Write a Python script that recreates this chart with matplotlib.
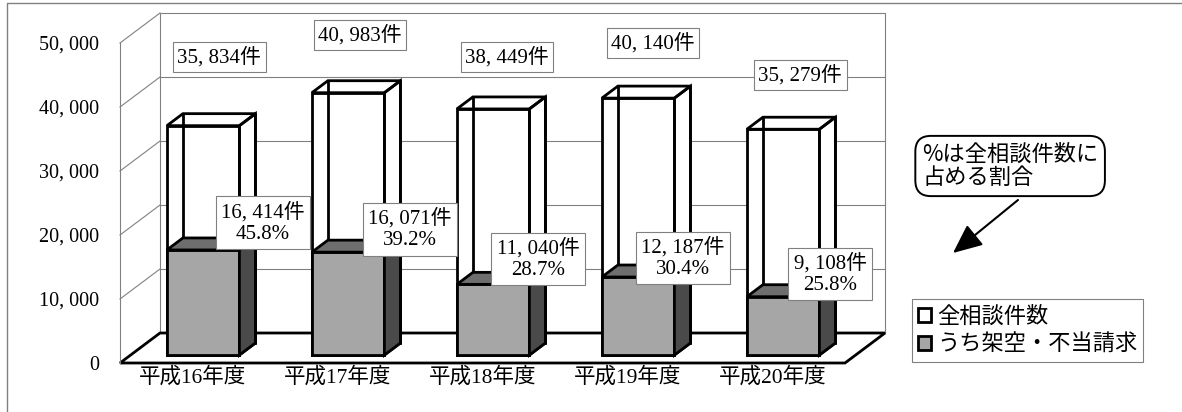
import matplotlib
matplotlib.use('Agg')
import matplotlib.pyplot as plt
from matplotlib.patches import Polygon, Patch
from matplotlib.transforms import IdentityTransform
from matplotlib.lines import Line2D

# ---- data -------------------------------------------------------------
categories = ['平成16年度', '平成17年度', '平成18年度', '平成19年度', '平成20年度']
total = [35834, 40983, 38449, 40140, 35279]          # 全相談件数
fraud = [16414, 16071, 11040, 12187, 9108]           # うち架空・不当請求
share = [45.8, 39.2, 28.7, 30.4, 25.8]               # %
yticks = [0, 10000, 20000, 30000, 40000, 50000]
series_names = ['全相談件数', 'うち架空・不当請求']
note = '%は全相談件数に\n占める割合'

# label anchor positions (category units, value units)
total_label_pos = [(0.683, 47800), (1.655, 51250), (2.669, 47800), (3.676, 50000), (4.690, 45000)]
share_label_pos = [(0.986, 21900), (2.000, 20900), (2.883, 16250), (3.883, 16400), (4.897, 13900)]

# ---- style ------------------------------------------------------------
SERIF = ['Liberation Serif', 'Noto Sans CJK JP']
SANS = ['Noto Sans CJK JP', 'DejaVu Sans']
GRID = '#808080'
FRONT, TOP, SIDE = '#a6a6a6', '#6e6e6e', '#4a4a4a'
EDGE_LW = 2.0

W, H = 1182, 412
fig = plt.figure(figsize=(W / 100, H / 100), dpi=100)
fig.patch.set_facecolor('white')
ax = fig.add_axes([120 / W, (H - 363) / H, 725 / W, 320 / H])
ax.set_xlim(0, len(categories))
ax.set_ylim(0, yticks[-1])
ax.patch.set_visible(False)
for name, sp in ax.spines.items():
    sp.set_visible(name == 'left')
ax.spines['left'].set_color(GRID)
ax.spines['left'].set_linewidth(0.8)

# oblique depth (pixels for full floor depth)
DX, DY = 40, 30


def P(x, y, d):
    px, py = ax.transData.transform((x, y))
    return (px + DX * d, py + DY * d)


def poly(pts, fc='none', ec='black', lw=EDGE_LW, z=3):
    p = Polygon(pts, closed=True, facecolor=fc, edgecolor=ec, linewidth=lw,
                transform=IdentityTransform(), zorder=z, clip_on=False,
                joinstyle='miter')
    ax.add_artist(p)


def seg(a, b, color='black', lw=EDGE_LW, z=3):
    ax.add_artist(Line2D([a[0], b[0]], [a[1], b[1]], color=color, lw=lw,
                         transform=IdentityTransform(), zorder=z, clip_on=False,
                         solid_capstyle='projecting'))


n = len(categories)
top = yticks[-1]

# back wall and gridlines
poly([P(0, 0, 1), P(0, top, 1), P(n, top, 1), P(n, 0, 1)], ec=GRID, lw=0.8, z=1)
for t in yticks[1:-1]:
    seg(P(0, t, 1), P(n, t, 1), color=GRID, lw=0.8, z=1)
for t in yticks[1:]:
    seg(P(0, t, 0), P(0, t, 1), color=GRID, lw=0.8, z=1)

# floor
poly([P(0, 0, 0), P(n, 0, 0), P(n, 0, 1), P(0, 0, 1)], fc='white', ec='black', lw=2.0, z=2)

# bars
d0, d1 = 8 / 30, 20 / 30
for i, (t, g) in enumerate(zip(total, fraud)):
    x0, x1 = i + 0.25, i + 0.75
    # total: white box with visible edges
    poly([P(x0, 0, d0), P(x0, t, d0), P(x0, t, d1), P(x1, t, d1), P(x1, 0, d1), P(x1, 0, d0)],
         fc='white', ec='none', lw=0, z=3)
    seg(P(x0, t, d1), P(x0, 0, d1), z=3.1)
    seg(P(x1, t, d1), P(x1, 0, d1), z=3.1)
    poly([P(x0, 0, d0), P(x0, t, d0), P(x1, t, d0), P(x1, 0, d0)], z=3.1)
    poly([P(x0, t, d0), P(x0, t, d1), P(x1, t, d1), P(x1, t, d0)], z=3.1)
    poly([P(x1, 0, d0), P(x1, t, d0), P(x1, t, d1), P(x1, 0, d1)], z=3.1)
    # fraud subset: solid grey box
    poly([P(x0, 0, d0), P(x0, g, d0), P(x1, g, d0), P(x1, 0, d0)], fc=FRONT, z=3.2)
    poly([P(x0, g, d0), P(x0, g, d1), P(x1, g, d1), P(x1, g, d0)], fc=TOP, z=3.2)
    poly([P(x1, 0, d0), P(x1, g, d0), P(x1, g, d1), P(x1, 0, d1)], fc=SIDE, z=3.2)


def fmt(v):
    return f'{v:,}'.replace(',', ', ')


# axes ticks and labels
ax.set_yticks(yticks)
ax.set_yticklabels([fmt(v) for v in yticks], family='Liberation Serif', fontsize=14.5)
ax.tick_params(axis='y', length=0, pad=15)
ax.set_xticks([i + 0.5 for i in range(n)])
ax.set_xticklabels(categories, family=SERIF, fontsize=15.5)
ax.set_xticks(range(1, n), minor=True)
ax.tick_params(axis='x', which='major', length=0, pad=3)
ax.tick_params(axis='x', which='minor', length=5, direction='in', color=GRID, width=0.8)

box = dict(boxstyle='square,pad=0.22', fc='white', ec=GRID, lw=0.8)
for (lx, ly), t in zip(total_label_pos, total):
    ax.text(lx, ly, f'{fmt(t)}件', ha='center', va='center', fontsize=15,
            family=SERIF, bbox=box, zorder=10, clip_on=False)
box2 = dict(boxstyle='square,pad=0.25', fc='white', ec=GRID, lw=0.8)
for (lx, ly), g, s in zip(share_label_pos, fraud, share):
    ax.text(lx, ly, f'{fmt(g)}件\n{s:.1f}%', ha='center', va='center',
            multialignment='center', fontsize=15, family=SERIF, linespacing=1.2,
            bbox=box2, zorder=10, clip_on=False)

# callout note with arrow
fig.text(922 / W, 1 - 166 / H, note, ha='left', va='center', fontsize=16,
         family=SANS, linespacing=1.05,
         bbox=dict(boxstyle='round,pad=0.3,rounding_size=0.7', fc='white', ec='black', lw=1.4))
ax.annotate('', xy=(953 / W, 1 - 253 / H), xycoords='figure fraction',
            xytext=(1018 / W, 1 - 200 / H), textcoords='figure fraction',
            arrowprops=dict(arrowstyle='-|>,head_length=0.9,head_width=0.4', color='black',
                            lw=1.5, mutation_scale=20, shrinkA=0, shrinkB=0),
            annotation_clip=False)

# legend
handles = [Patch(facecolor='white', edgecolor='black', linewidth=2),
           Patch(facecolor=FRONT, edgecolor='black', linewidth=2)]
leg = fig.legend(handles, series_names, loc='upper left',
                 bbox_to_anchor=(912 / W, 1 - 299 / H), bbox_transform=fig.transFigure,
                 frameon=True, fancybox=False, edgecolor=GRID, framealpha=1,
                 prop={'family': SANS, 'size': 16}, handlelength=0.6, handleheight=0.6,
                 handletextpad=0.3, borderpad=0.25, labelspacing=0.25, borderaxespad=0)
leg.get_frame().set_linewidth(0.8)

# outer frame
fig.add_artist(Line2D([7 / W, 7 / W, 1], [0, 1 - 3 / H, 1 - 3 / H], color=GRID, lw=1.0,
                      transform=fig.transFigure))

fig.savefig('out.png', dpi=100)
